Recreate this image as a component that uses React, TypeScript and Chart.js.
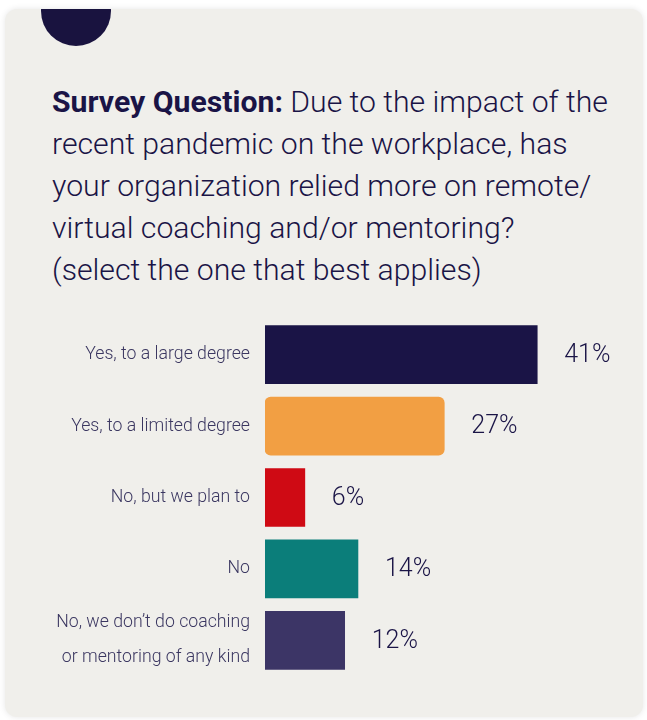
import React, { useEffect, useRef } from "react";
import { Chart, registerables } from "chart.js";

Chart.register(...registerables);

const categories: (string | string[])[] = [
  "Yes, to a large degree",
  "Yes, to a limited degree",
  "No, but we plan to",
  "No",
  ["No, we don\u2019t do coaching", "or mentoring of any kind"],
];
const values: number[] = [41, 27, 6, 14, 12];
const barColors: string[] = ["#1a1446", "#f29f43", "#cf0a14", "#0b7e7a", "#3c3566"];
const valueLabels: string[] = ["41%", "27%", "6%", "14%", "12%"];

const titleBold = "Survey Question:";
const titleLines: string[] = [
  " Due to the impact of the",
  "recent pandemic on the workplace, has",
  "your organization relied more on remote/",
  "virtual coaching and/or mentoring?",
  "(select the one that best applies)",
];

const NAVY = "#1a1446";
const FONT = "Roboto, 'Noto Sans', sans-serif";

export default function App() {
  const canvasRef = useRef<HTMLCanvasElement | null>(null);

  useEffect(() => {
    const canvas = canvasRef.current;
    if (!canvas) return;
    const valueLabelPlugin = {
      id: "valueLabels",
      afterDatasetsDraw(chart: any) {
        const ctx = chart.ctx;
        const meta = chart.getDatasetMeta(0);
        ctx.save();
        ctx.font = `300 25px ${FONT}`;
        ctx.fillStyle = NAVY;
        ctx.textAlign = "left";
        ctx.textBaseline = "middle";
        meta.data.forEach((bar: any, i: number) => {
          ctx.fillText(valueLabels[i], bar.x + 27, bar.y + 1);
        });
        ctx.restore();
      },
    };
    const chart = new Chart(canvas, {
      type: "bar",
      data: {
        labels: categories,
        datasets: [
          {
            data: values,
            backgroundColor: barColors,
            borderWidth: 0,
            borderSkipped: false,
            borderRadius: (c: any) => (c.dataIndex === 1 ? 6 : 0),
            barThickness: 58,
          },
        ],
      },
      options: {
        indexAxis: "y",
        animation: false,
        responsive: false,
        maintainAspectRatio: false,
        layout: { padding: { top: 19, bottom: 24, left: 0, right: 50 } },
        plugins: {
          legend: { display: false },
          tooltip: { enabled: false },
          title: { display: false },
        },
        scales: {
          x: { display: false, min: 0, max: 50 },
          y: {
            grid: { display: false, drawTicks: false },
            border: { display: false },
            ticks: {
              autoSkip: false,
              color: "#3b3761",
              font: { family: FONT, size: 17.7, weight: "300", lineHeight: 1.95 },
              padding: 15,
            },
            afterFit: (scale: any) => {
              scale.width = 265;
              scale.paddingTop = 0;
              scale.paddingBottom = 0;
            },
          },
        },
      },
      plugins: [valueLabelPlugin],
    } as any);
    return () => chart.destroy();
  }, []);

  return (
    <div style={{ position: "absolute", left: 0, top: 0, width: 647, height: 720, background: "#ffffff", overflow: "hidden" }}>
      <div
        style={{
          position: "absolute",
          left: 5,
          top: 9,
          width: 638,
          height: 708,
          borderRadius: 12,
          background: "#f0efeb",
          boxShadow: "0 0 6px rgba(0,0,0,0.10)",
          overflow: "hidden",
        }}
      >
        <div
          style={{
            position: "absolute",
            left: 36,
            top: -33,
            width: 70,
            height: 70,
            borderRadius: "50%",
            background: "#19133f",
          }}
        />
      </div>
      <div
        style={{
          position: "absolute",
          left: 52,
          top: 81,
          width: 590,
          fontFamily: FONT,
          fontSize: 30.2,
          lineHeight: "42px",
          color: NAVY,
          fontWeight: 300,
          whiteSpace: "nowrap",
        }}
      >
        <div>
          <span style={{ fontWeight: 700 }}>{titleBold}</span>
          {titleLines[0]}
        </div>
        {titleLines.slice(1).map((l, i) => (
          <div key={i}>{l}</div>
        ))}
      </div>
      <canvas
        ref={canvasRef}
        width={647}
        height={400}
        style={{ position: "absolute", left: 0, top: 300, width: 647, height: 400 }}
      />
    </div>
  );
}
